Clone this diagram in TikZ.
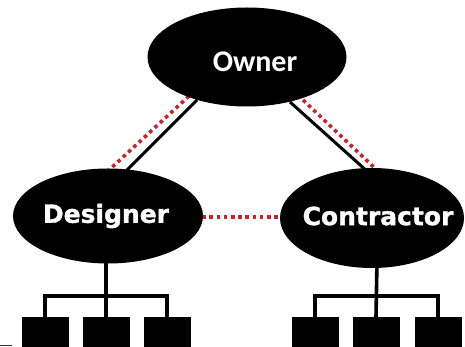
\documentclass[tikz,border=0pt]{standalone}
\usepackage{fontspec}
\usetikzlibrary{shapes.geometric,backgrounds}
\newfontfamily\ownerfont{Carlito}
\newfontfamily\heavyfont{DejaVu Sans Bold}[FakeBold=1.2]
\definecolor{dotred}{HTML}{C0272D}
\begin{document}
\begin{tikzpicture}[x=1pt,y=-1pt,
  party/.style={ellipse, fill=black, inner sep=0pt},
  title/.style={text=white, inner sep=0pt},
  unitbox/.style={rectangle, fill=black, minimum width=47pt, minimum height=40pt, anchor=north, inner sep=0pt},
  tie/.style={line width=3pt, black},
  link/.style={line width=3.6pt, dotred, dash pattern=on 3.6pt off 3.6pt},
  branch/.style={line width=3.6pt, black, line join=miter}]
\clip (0,0) rectangle (465,347);
% parties
\node[party, minimum width=199pt, minimum height=99pt] (owner) at (247,57) {};
\node[party, minimum width=190pt, minimum height=95pt] (designer) at (108,216) {};
\node[party, minimum width=184pt, minimum height=100pt] (contractor) at (372,218) {};
\node[title, font=\ownerfont\bfseries\fontsize{30}{30}\selectfont] (ownertext) at (255,62) {Owner};
\node[title, font=\heavyfont\fontsize{25}{26}\selectfont] (designertext) at (106,216) {Designer};
\node[title, font=\heavyfont\fontsize{25}{26}\selectfont] (contractortext) at (378,216) {Contractor};
% sub units
\node[unitbox] (d1) at (45,317) {};
\node[unitbox] (d2) at (106,317) {};
\node[unitbox] (d3) at (167,317) {};
\node[unitbox] (c1) at (315,317) {};
\node[unitbox] (c2) at (376,317) {};
\node[unitbox] (c3) at (438,317) {};
% connector end points
\coordinate (olb) at (197,100);  \coordinate (dtb) at (122,175);
\coordinate (olr) at (189,96);   \coordinate (dtr) at (108,171);
\coordinate (orb) at (290,102);  \coordinate (ctb) at (368,172);
\coordinate (orr) at (303,100);  \coordinate (ctr) at (381,174);
\coordinate (dre) at (195,217);  \coordinate (cle) at (290,217);
\coordinate (dbar) at (106,296); \coordinate (cbar) at (377,296);
\coordinate (dstem) at (106,255); \coordinate (cstem) at (377,260);
\coordinate (markA) at (0,345.5); \coordinate (markB) at (12,345.5);
\begin{pgfonlayer}{background}
\fill[white] (0,0) rectangle (465,347);
\draw[tie] (olb) -- (dtb);
\draw[link] (olr) -- (dtr);
\draw[tie] (orb) -- (ctb);
\draw[link] (orr) -- (ctr);
\draw[link] (dre) -- (cle);
\draw[branch] (dstem) -- (d2.north);
\draw[branch] (cstem) -- (c2.north);
\end{pgfonlayer}
\draw[branch] (d1.north) -- (d1.north |- dbar) -- (d3.north |- dbar) -- (d3.north);
\draw[branch] (c1.north) -- (c1.north |- cbar) -- (c3.north |- cbar) -- (c3.north);
\draw[line width=1pt, black!80] (markA) -- (markB);
\end{tikzpicture}
\end{document}
